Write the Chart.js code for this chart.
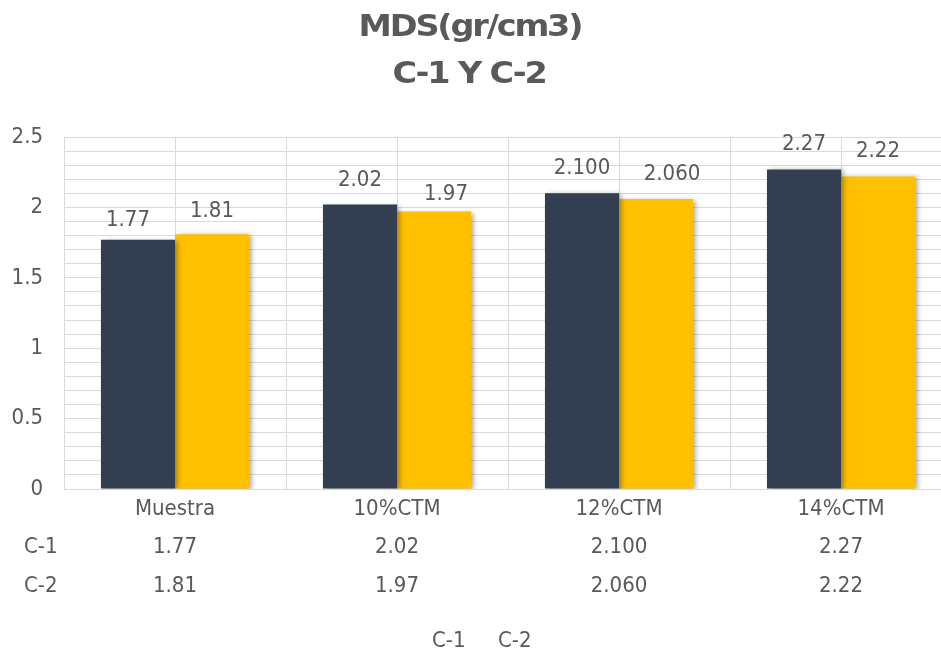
<!DOCTYPE html>
<html>
<head>
<meta charset="utf-8">
<script src="https://cdn.jsdelivr.net/npm/chart.js@4.4.1/dist/chart.umd.min.js"></script>
<style>
  html, body { margin: 0; padding: 0; background: #ffffff; }
  #frame { width: 941px; height: 652px; overflow: hidden; position: relative; }
  canvas { display: block; }
</style>
</head>
<body>
<div id="frame"><canvas id="chart" width="960" height="652"></canvas></div>
<script>
// ---- data ----
const categories = ['Muestra', '10%CTM', '12%CTM', '14%CTM'];
const seriesNames = ['C-1', 'C-2'];
const c1Values = [1.77, 2.02, 2.100, 2.27];
const c2Values = [1.81, 1.97, 2.060, 2.22];
const c1Decimals = [2, 2, 3, 2];
const c2Decimals = [2, 2, 3, 2];
const yTickLabels = [0, 0.5, 1, 1.5, 2, 2.5];
const titleLines = ['MDS(gr/cm3)', 'C-1 Y C-2'];

// ---- styling ----
const TEXT = '#595959';
const GRID = '#dadada';
const COLORS = ['#333f50', '#ffc000'];
const FONT = '"DejaVu Sans Condensed", "DejaVu Sans", sans-serif';
const TITLE_FONT = 'bold 31px "DejaVu Sans", sans-serif';
// hand-placed value labels: [dx, dy] relative to the default spot above each bar
const labelNudge = [
  [[-10, 5], [0, 0], [0, 0], [0, 0]],
  [[0, 2], [12, 7], [16, 0], [0, 0]]
];

const seriesValues = [c1Values, c2Values];
const seriesDecimals = [c1Decimals, c2Decimals];

// draws a title line squeezed together and slightly widened, centred on cx
function drawTitleLine(ctx, text, cx, baseline) {
  ctx.save();
  ctx.font = TITLE_FONT;
  ctx.letterSpacing = '-2px';
  ctx.textAlign = 'center';
  ctx.textBaseline = 'alphabetic';
  ctx.translate(cx, baseline);
  ctx.scale(1.08, 1);
  ctx.fillText(text, 0, 0);
  ctx.restore();
}

const extras = {
  id: 'extras',
  beforeDatasetsDraw(chart) {
    // vertical lines through the category centres
    const { ctx, chartArea: a, scales: { x } } = chart;
    ctx.save();
    ctx.strokeStyle = GRID;
    ctx.lineWidth = 1;
    categories.forEach((_, i) => {
      const px = Math.round(x.getPixelForValue(i)) + 0.5;
      ctx.beginPath();
      ctx.moveTo(px, a.top);
      ctx.lineTo(px, a.bottom);
      ctx.stroke();
    });
    ctx.restore();
  },
  beforeDatasetDraw(chart) {
    const ctx = chart.ctx;
    ctx.save();
    ctx.shadowColor = 'rgba(0,0,0,0.35)';
    ctx.shadowBlur = 5;
    ctx.shadowOffsetX = 3;
    ctx.shadowOffsetY = 1;
  },
  afterDatasetDraw(chart) {
    chart.ctx.restore();
  },
  afterDraw(chart) {
    const { ctx, chartArea: a, scales: { x } } = chart;
    ctx.save();
    ctx.fillStyle = TEXT;

    // title
    drawTitleLine(ctx, titleLines[0], 470, 36);
    drawTitleLine(ctx, titleLines[1], 469, 83);

    // value labels above the bars
    ctx.font = '22px ' + FONT;
    ctx.textAlign = 'center';
    ctx.textBaseline = 'alphabetic';
    seriesValues.forEach((vals, s) => {
      const meta = chart.getDatasetMeta(s);
      meta.data.forEach((bar, i) => {
        const [dx, dy] = labelNudge[s][i];
        ctx.fillText(vals[i].toFixed(seriesDecimals[s][i]), bar.x + dx, bar.y - 19 + dy);
      });
    });

    // data table under the plot
    const rowBase = [a.bottom + 26, a.bottom + 64, a.bottom + 103];
    categories.forEach((cat, i) => {
      const px = x.getPixelForValue(i);
      ctx.textAlign = 'center';
      ctx.fillText(cat, px, rowBase[0]);
      seriesValues.forEach((vals, s) => {
        ctx.fillText(vals[i].toFixed(seriesDecimals[s][i]), px, rowBase[s + 1]);
      });
    });
    ctx.textAlign = 'left';
    seriesNames.forEach((name, s) => ctx.fillText(name, 24, rowBase[s + 1]));

    // legend
    ctx.fillText(seriesNames[0], 432, 647);
    ctx.fillText(seriesNames[1], 498, 647);
    ctx.restore();
  }
};

new Chart(document.getElementById('chart'), {
  type: 'bar',
  data: {
    labels: categories,
    datasets: seriesNames.map((name, s) => ({
      label: name,
      data: seriesValues[s],
      backgroundColor: COLORS[s],
      borderWidth: 0,
      barPercentage: 1,
      categoryPercentage: 0.667
    }))
  },
  options: {
    responsive: false,
    animation: false,
    devicePixelRatio: 1,
    layout: { padding: { top: 137, bottom: 163, left: 0, right: 8 } },
    plugins: {
      legend: { display: false },
      title: { display: false },
      tooltip: { enabled: false }
    },
    scales: {
      x: {
        grid: { color: GRID, offset: true, drawTicks: false },
        border: { color: GRID },
        ticks: { display: false }
      },
      y: {
        min: 0,
        max: 2.5,
        afterFit(scale) { scale.width = 64; },
        grid: { color: GRID, drawTicks: false },
        border: { color: GRID },
        ticks: {
          stepSize: 0.1,
          autoSkip: false,
          padding: 21,
          color: TEXT,
          font: { family: FONT, size: 22 },
          callback(v) {
            const hit = yTickLabels.find(t => Math.abs(t - v) < 1e-6);
            return hit === undefined ? '' : String(hit);
          }
        }
      }
    }
  },
  plugins: [extras]
});
</script>
</body>
</html>
